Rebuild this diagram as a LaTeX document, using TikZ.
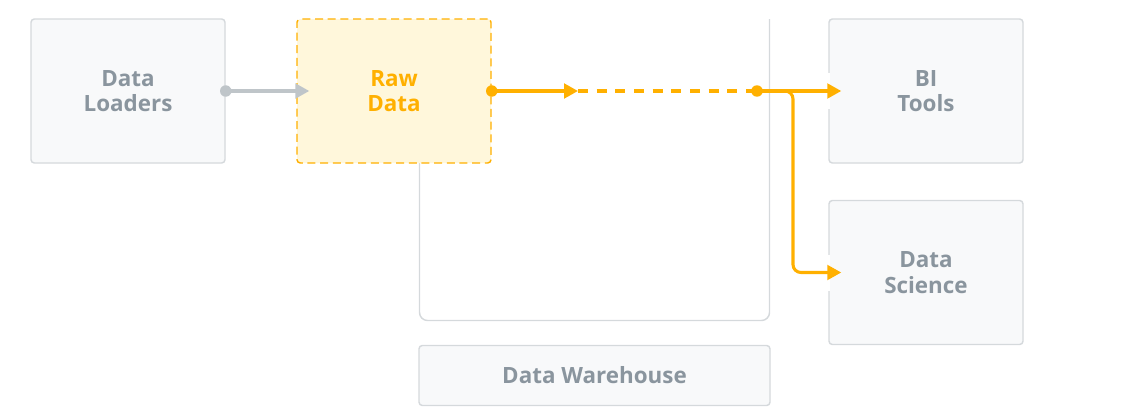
\documentclass[tikz,border=0pt]{standalone}
\usepackage{fontspec}
\setmainfont{Open Sans}
\usetikzlibrary{arrows.meta,calc}
\definecolor{org}{HTML}{FFB000}
\definecolor{orgfill}{HTML}{FFF7DB}
\definecolor{boxfill}{HTML}{F8F9FA}
\definecolor{boxline}{HTML}{D5D9DC}
\definecolor{txtgray}{HTML}{8A959E}
\definecolor{arrgray}{HTML}{BFC5C9}
\tikzset{
  box/.style={draw=boxline, fill=boxfill, line width=1.1pt, rounded corners=2.5pt,
    minimum width=145.5pt, minimum height=108pt, inner sep=0pt, align=center,
    text=txtgray, font=\fontsize{16.8pt}{19pt}\selectfont\bfseries},
  rawbox/.style={box, draw=org, fill=orgfill, dash pattern=on 6pt off 3.5pt, text=org},
  wbox/.style={box, minimum width=263.25pt, minimum height=45pt},
  tip/.style={-{Triangle[length=10.5pt,width=11pt]}},
  orgline/.style={draw=org, line width=2.3pt},
  grayline/.style={draw=arrgray, line width=2.3pt},
  cont/.style={draw=boxline, line width=1.1pt, rounded corners=6pt},
}
\begin{document}
\begin{tikzpicture}[x=0.75pt,y=-0.75pt]
\useasboundingbox (0,0) rectangle (1129,418);
% container of the warehouse
\coordinate (c1) at (419.5,19);
\coordinate (c2) at (419.5,320.5);
\coordinate (c3) at (769.5,320.5);
\coordinate (c4) at (769.5,19);
\draw[cont] (c1) -- (c2) -- (c3) -- (c4);
% boxes
\node[box] (dl) at (128,91) {Data\\Loaders};
\node[rawbox] (rd) at (394,91) {Raw\\Data};
\node[box] (bi) at (926,91) {BI\\Tools};
\node[box] (ds) at (926,272.5) {Data\\Science};
\node[wbox] (dw) at (594.5,375.5) {Data Warehouse};
% white gaps in borders at arrow tips
\draw[white, line width=2pt] ($(bi.west)+(0,-18)$) -- ($(bi.west)+(0,18)$);
\draw[white, line width=2pt] ($(ds.west)+(0,-18)$) -- ($(ds.west)+(0,18)$);
% connectors
\draw[grayline, tip] (dl.east) -- ($(rd.west)+(13,0)$);
\fill[arrgray] (dl.east) circle (4.3pt);
\coordinate (m1) at (578,91);
\coordinate (j) at (757,91);
\coordinate (b) at (793,272.5);
\draw[orgline, tip] (rd.east) -- (m1);
\draw[orgline, dash pattern=on 7.5pt off 6.5pt] (m1) -- (j);
\draw[orgline, tip] (j) -- ($(bi.west)+(13,0)$);
\draw[orgline, tip, rounded corners=6pt] (j) -| (b) -- ($(ds.west)+(13,0)$);
\fill[org] (rd.east) circle (4.3pt);
\fill[org] (j) circle (4.3pt);
\end{tikzpicture}
\end{document}
